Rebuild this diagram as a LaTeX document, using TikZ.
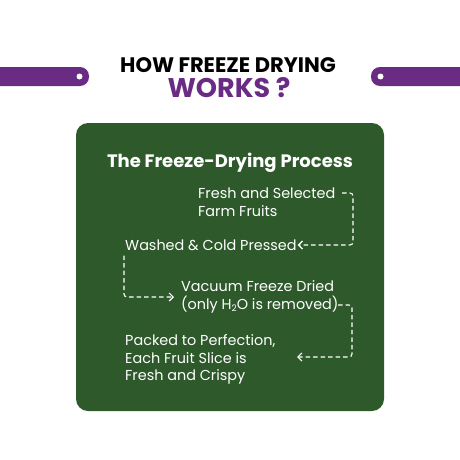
\documentclass[tikz,border=0pt]{standalone}
\usepackage{fontspec}
\setmainfont{Poppins}
\usetikzlibrary{arrows.meta}
\definecolor{bargreen}{HTML}{2E5A2B}
\definecolor{vio}{HTML}{6A2B84}
\begin{document}
\begin{tikzpicture}[x=1pt,y=-1pt,
  lbl/.style={text=white,font=\fontsize{14.4}{17.6}\selectfont,align=left,inner sep=1pt},
  flow/.style={draw=white,line width=1.1pt,dash pattern=on 4.5pt off 3pt,rounded corners=3pt,-{Straight Barb[length=4pt,width=8pt,line width=1.2pt]}}]
\useasboundingbox (0,0) rectangle (460,460);
\fill[white] (0,0) rectangle (460,460);
% purple bars
\fill[vio,rounded corners=9pt] (-12,67) rectangle (89,86);
\fill[white] (79.5,76.5) circle (3);
\fill[vio,rounded corners=9pt] (371,67) rectangle (472,86);
\fill[white] (380.5,76.5) circle (3);
% title
\node[font=\fontsize{21}{23}\bfseries\selectfont,text=black,inner sep=0] (t1) at (228,65) {HOW FREEZE DRYING};
\node[font=\fontsize{27}{30}\bfseries\selectfont,text=vio,inner sep=0] (t2) at (229,88) {WORKS ?};
% green panel
\fill[bargreen,rounded corners=12pt] (76,123) rectangle (384,411);
\node[text=white,font=\fontsize{18}{21}\bfseries\selectfont,inner sep=0] (head) at (230,163) {The Freeze-Drying Process};
% steps
\node[lbl,anchor=west] (fresh) at (197,202.5) {Fresh and Selected\\Farm Fruits};
\node[lbl,anchor=west] (wash) at (124,245) {Washed \& Cold Pressed};
\node[lbl,anchor=west] (vac) at (180,297) {Vacuum Freeze Dried\\(only H\raisebox{-0.3ex}{\fontsize{9}{9}\selectfont 2}O is removed)};
\node[lbl,anchor=west] (pack) at (124,359.5) {Packed to Perfection,\\Each Fruit Slice is\\Fresh and Crispy};
\coordinate (a1) at (342,193);
\coordinate (a3) at (338,305);
\coordinate (e3) at (297,357);
\draw[flow] (a1) -- (353,193) -- (353,245) -- (wash.east);
\draw[flow,shorten >=6pt] (wash.south west) ++(0,4) |- (vac.west);
\draw[flow] (a3) -- (352,305) -- (352,357) -- (e3);
\end{tikzpicture}
\end{document}
